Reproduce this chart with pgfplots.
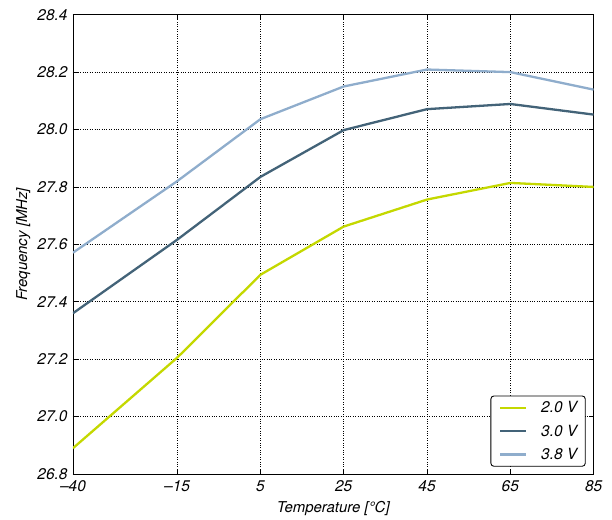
\documentclass[border=0pt]{standalone}
\usepackage{pgfplots}
\pgfplotsset{compat=1.18}
\usepackage{fontspec}
\setmainfont{TeX Gyre Heros}
\definecolor{cLime}{RGB}{196,216,0}
\definecolor{cDark}{RGB}{67,99,120}
\definecolor{cLight}{RGB}{143,173,204}
\begin{document}
\begin{tikzpicture}
\begin{axis}[
  name=ax,
  scale only axis,
  width=520.6bp, height=459.3bp,
  xmin=-40, xmax=85,
  ymin=26.8, ymax=28.4,
  xtick={-40,-15,5,25,45,65,85},
  xticklabels={\textendash40,\textendash15,5,25,45,65,85},
  ytick={26.8,27.0,27.2,27.4,27.6,27.8,28.0,28.2,28.4},
  /pgf/number format/assume math mode=true,
  tick label style={font=\fontsize{15.5}{17}\selectfont\itshape},
  yticklabel style={xshift=-2bp, /pgf/number format/.cd,fixed,fixed zerofill,precision=1},
  xticklabel style={yshift=-3bp},
  label style={font=\fontsize{15}{17}\selectfont\itshape},
  xlabel={Temperature [°C]},
  ylabel={Frequency [MHz]},
  xlabel style={at={(axis description cs:0.5,0)}, anchor=north, yshift=-24bp},
  ylabel style={at={(axis description cs:0,0.5)}, anchor=south, yshift=39bp},
  tick align=inside,
  major tick length=5bp,
  xtick pos=both, ytick pos=both,
  grid=major,
  grid style={black, dotted, line width=0.7pt},
  axis line style={black, line width=0.9pt},
  every tick/.style={black, line width=0.7pt},
  legend cell align=left,
  legend style={at={(0.9848,0.0159)}, anchor=south east, draw=black, rounded corners=3pt,
    line width=0.9pt, font=\fontsize{15.5}{17}\selectfont\itshape,
    row sep=10.5bp, column sep=14bp,
    inner xsep=8bp, inner ysep=5.5bp,
    nodes={inner sep=0pt}},
  legend image code/.code={\draw[#1, line width=2.3bp] (0bp,0bp) -- (26bp,0bp);},
]
\addplot[cLime, line width=2.3bp] coordinates {
 (-40,26.890) (-15,27.205) (5,27.494) (25,27.662) (45,27.756) (65,27.814) (85,27.800)};
\addlegendentry{2.0 V}
\addplot[cDark, line width=2.3bp] coordinates {
 (-40,27.360) (-15,27.616) (5,27.835) (25,27.998) (45,28.071) (65,28.089) (85,28.052)};
\addlegendentry{3.0 V}
\addplot[cLight, line width=2.3bp] coordinates {
 (-40,27.571) (-15,27.820) (5,28.036) (25,28.150) (45,28.209) (65,28.200) (85,28.139)};
\addlegendentry{3.8 V}
\end{axis}
\path (ax.south west) ++(-73bp,-46bp) coordinate (bbA);
\path (ax.north east) ++(18.4bp,14.7bp) coordinate (bbB);
\useasboundingbox (bbA) rectangle (bbB);
\end{tikzpicture}
\end{document}
